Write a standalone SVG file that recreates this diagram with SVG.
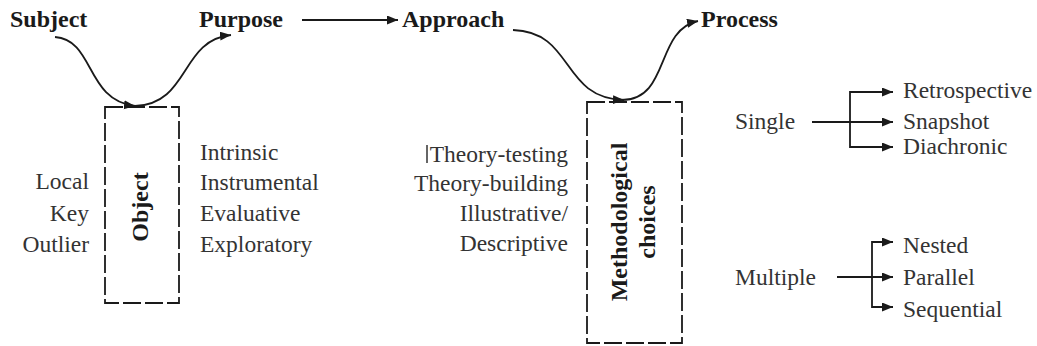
<svg xmlns="http://www.w3.org/2000/svg" width="1037" height="346" viewBox="0 0 1037 346">
<style>
.b{font-family:'Liberation Serif','DejaVu Serif',serif;font-weight:bold;font-size:24px;fill:#1a1a1a}
.t{font-family:'Liberation Serif','DejaVu Serif',serif;font-size:23.5px;fill:#333}
.r{text-anchor:end}
.m{text-anchor:middle}
.ln{fill:none;stroke:#1a1a1a;stroke-width:1.8}
.box{fill:none;stroke:#1a1a1a;stroke-width:1.8;stroke-dasharray:18 4}
</style>
<defs>
<marker id="ah" markerUnits="userSpaceOnUse" markerWidth="12" markerHeight="10" refX="11" refY="4.5" orient="auto">
<path d="M0,0 L11,4.5 L0,9 z" fill="#1a1a1a"/>
</marker>
</defs>
<rect width="1037" height="346" fill="#fff"/>
<g id="subject"><text class="b" x="10" y="27">Subject</text></g>
<g id="purpose"><text class="b" x="199" y="27">Purpose</text></g>
<g id="approach"><text class="b" x="402" y="27">Approach</text></g>
<g id="process"><text class="b" x="701" y="27">Process</text></g>
<g id="object">
<rect class="box" x="105" y="107" width="74" height="196"/>
<text class="b m" transform="translate(148,207) rotate(-90)">Object</text>
</g>
<g id="cases">
<text class="t r" x="89" y="189">Local</text>
<text class="t r" x="89" y="221">Key</text>
<text class="t r" x="89" y="252">Outlier</text>
</g>
<g id="purposes">
<text class="t" x="200" y="160">Intrinsic</text>
<text class="t" x="200" y="190">Instrumental</text>
<text class="t" x="200" y="221">Evaluative</text>
<text class="t" x="200" y="252">Exploratory</text>
</g>
<g id="approaches">
<line x1="427" y1="145" x2="427" y2="163" stroke="#333" stroke-width="1.5"/>
<text class="t r" x="568" y="162">Theory-testing</text>
<text class="t r" x="568" y="191">Theory-building</text>
<text class="t r" x="568" y="221">Illustrative/</text>
<text class="t r" x="568" y="251">Descriptive</text>
</g>
<g id="methodological">
<rect class="box" x="587" y="102" width="95" height="241"/>
<text class="b m" transform="translate(627,222) rotate(-90)">Methodological</text>
<text class="b m" transform="translate(655,222) rotate(-90)">choices</text>
</g>
<g id="single">
<text class="t" x="735" y="129">Single</text>
<text class="t" x="903" y="98">Retrospective</text>
<text class="t" x="903" y="129">Snapshot</text>
<text class="t" x="903" y="154">Diachronic</text>
</g>
<g id="multiple">
<text class="t" x="735" y="285">Multiple</text>
<text class="t" x="903" y="253">Nested</text>
<text class="t" x="903" y="285">Parallel</text>
<text class="t" x="903" y="317">Sequential</text>
</g>
<g id="connectors">
<path class="ln" d="M55,37 C95,40 85,100 135,106" marker-end="url(#ah)"/>
<path class="ln" d="M135,106 C190,104 180,40 231,35" marker-end="url(#ah)"/>
<line class="ln" x1="302" y1="20" x2="398" y2="20" marker-end="url(#ah)"/>
<path class="ln" d="M513,30 C575,32 560,98 624,100" marker-end="url(#ah)"/>
<path class="ln" d="M622,100 C670,100 655,30 698,21" marker-end="url(#ah)"/>
<line class="ln" x1="812" y1="122" x2="893" y2="122" marker-end="url(#ah)"/>
<path class="ln" d="M893,92 H850 V147 H893" marker-end="url(#ah)"/>
<line class="ln" x1="850" y1="92" x2="893" y2="92" marker-end="url(#ah)"/>
<line class="ln" x1="837" y1="277" x2="893" y2="277" marker-end="url(#ah)"/>
<path class="ln" d="M893,242 H872 V307 H893" marker-end="url(#ah)"/>
<line class="ln" x1="872" y1="242" x2="893" y2="242" marker-end="url(#ah)"/>
</g>
</svg>
